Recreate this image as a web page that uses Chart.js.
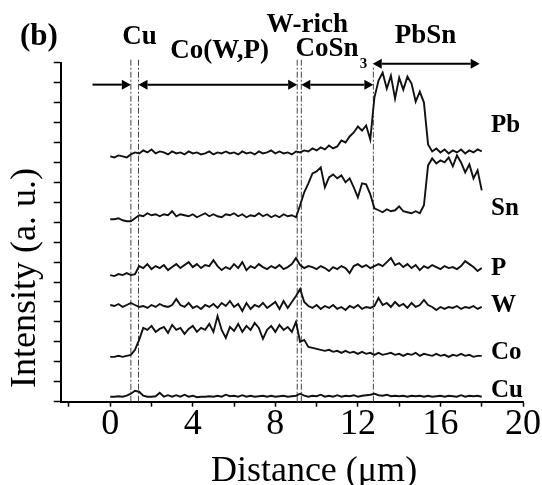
<!DOCTYPE html>
<html>
<head>
<meta charset="utf-8">
<title>Line scan (b)</title>
<style>
  html, body { margin: 0; padding: 0; background: #fff; }
  .chart-box { width: 542px; height: 485px; position: relative; }
</style>
</head>
<body>
<div class="chart-box"><canvas id="scan"></canvas></div>

<script src="https://cdn.jsdelivr.net/npm/chart.js"></script>
<script>
// distance along the scan (µm)
const distance = [
  0, 0.2, 0.4, 0.6, 0.8, 1.0, 1.2, 1.4, 1.6, 1.8,
  2.0, 2.2, 2.4, 2.6, 2.8, 3.0, 3.2, 3.4, 3.6, 3.8,
  4.0, 4.2, 4.4, 4.6, 4.8, 5.0, 5.2, 5.4, 5.6, 5.8,
  6.0, 6.2, 6.4, 6.6, 6.8, 7.0, 7.2, 7.4, 7.6, 7.8,
  8.0, 8.2, 8.4, 8.6, 8.8, 9.0, 9.2, 9.4, 9.6, 9.8,
  10.0, 10.2, 10.4, 10.6, 10.8, 11.0, 11.2, 11.4, 11.6, 11.8,
  12.0, 12.2, 12.4, 12.6, 12.8, 13.0, 13.2, 13.4, 13.6, 13.8,
  14.0, 14.2, 14.4, 14.6, 14.8, 15.0, 15.2, 15.4, 15.6, 15.8,
  16.0, 16.2, 16.4, 16.6, 16.8, 17.0, 17.2, 17.4, 17.6, 17.8,
  18.0
];

// stacked intensity traces (a.u., already offset)
const cu = [
  5, 5, 5.5, 5, 6, 8, 11, 10, 6, 5,
  5, 5.5, 9, 5, 6.5, 5, 6.5, 5, 7, 5,
  6, 4.5, 5, 5, 5.5, 5, 6, 5, 7, 5.5,
  6, 5, 6.5, 5, 6, 5, 5.5, 6, 5, 6,
  5, 5.5, 6, 5, 5.5, 6, 8, 6, 5, 6,
  5.5, 7, 5, 6, 5, 6.5, 5, 6, 5.5, 6.5,
  5, 6, 6.5, 7, 8, 6.5, 6, 7, 5.5, 6,
  5.5, 6, 5, 6, 5.5, 6, 5, 6, 5, 5.5,
  6, 5, 6, 5.5, 5, 6.5, 5, 6, 5.5, 6,
  5
];
const co = [
  45, 45, 46, 45, 46, 47, 52, 62, 74, 72,
  76, 70, 73, 75, 69, 77, 72, 74, 68, 73,
  76, 70, 74, 72, 78, 70, 86, 72, 64, 75,
  71, 78, 70, 76, 72, 79, 74, 63, 72, 76,
  70, 77, 72, 75, 70, 80, 60, 62, 55, 54,
  53, 52, 51, 52, 50, 51, 49, 51, 49, 50,
  48, 50, 48, 49, 47, 49, 47, 48, 49, 47,
  48, 46, 48, 47, 49, 46, 48, 47, 46, 48,
  46, 47, 45, 47, 46, 48, 46, 47, 45, 46,
  46
];
const w = [
  97, 96, 98, 95, 97, 99, 97, 95, 96, 94,
  97, 95, 98, 96, 95, 97, 103, 97, 95, 99,
  94, 96, 93, 97, 95, 98, 94, 99, 96, 101,
  95, 98, 91, 99, 93, 97, 95, 99, 94, 97,
  100, 93, 101, 94, 100, 106, 113, 100, 96, 94,
  97, 93, 96, 94, 97, 93, 95, 92, 96, 94,
  97, 93, 95, 94, 96, 104, 97, 99, 95, 100,
  96, 98, 94, 99, 95, 97, 102, 97, 95, 92,
  95, 93, 95, 94, 96, 93, 95, 94, 96, 93,
  95
];
const p = [
  127, 126, 128, 127, 129, 127, 128, 136, 134, 138,
  133, 136, 134, 137, 132, 135, 138, 134, 137, 140,
  135, 138, 134, 137, 136, 142, 136, 132, 135, 133,
  138, 134, 140, 132, 136, 134, 138, 135, 133, 136,
  134, 137, 133, 135, 138, 144, 137, 134, 136, 135,
  133, 136, 134, 131, 135, 133, 136, 134, 129, 136,
  138, 135, 137, 134, 136, 138, 136, 140, 144, 137,
  139, 135, 138, 134, 137, 132, 136, 134, 137, 135,
  133, 136, 134, 135, 133, 136, 141, 138, 135, 131,
  134
];
const sn = [
  183, 183, 184, 182, 181, 181, 184, 187, 186, 189,
  187, 188, 186, 188, 187, 191, 186, 188, 187, 186,
  188, 185, 187, 189, 186, 188, 186, 185, 188, 187,
  189, 186, 188, 185, 187, 186, 189, 186, 188, 185,
  187, 185, 188, 186, 187, 185, 197, 210, 219, 229,
  231, 235, 215, 225, 228, 224, 227, 220, 224, 215,
  205, 219, 218, 208, 194, 192, 190, 193, 191, 192,
  196, 191, 190, 189, 191, 189, 197, 237, 244, 239,
  242, 240, 245, 236, 247, 240, 230, 238, 224, 232,
  212
];
const pb = [
  246, 245, 247, 246, 245, 248, 250, 249, 252, 250,
  253, 249, 251, 250, 248, 251, 249, 250, 248, 251,
  249, 250, 248, 249, 251, 248, 250, 249, 251, 249,
  250, 248, 251, 249, 250, 248, 251, 249, 250, 252,
  249, 251, 249, 250, 248, 251, 250, 252, 251, 254,
  252, 255, 253, 257, 254, 256, 262, 260, 266, 270,
  276, 272, 277, 263, 305, 322, 330, 314, 327, 304,
  325, 313, 326, 319, 301, 311, 300, 258, 251, 254,
  250, 253, 249, 252, 250, 253, 249, 252, 250, 253,
  251
];

const traces = [cu, co, w, p, sn, pb];
const elementNames = ['Cu', 'Co', 'W', 'P', 'Sn', 'Pb'];
const elementLabelAt = [5, 43, 90, 127, 187, 270];   // baseline of each name (a.u.)

// phase boundaries (µm) and the regions between them
const boundaries = [1.0, 1.37, 9.06, 9.26, 12.75];
const boundaryTop = [343, 343, 343, 343, 337];
const phaseArrows = [
  { from: -0.86, to: 1.0,  at: 318, both: false },
  { from: 1.37,  to: 9.06, at: 318, both: true },
  { from: 9.26,  to: 12.75, at: 318, both: true },
  { from: 12.72, to: 17.9, at: 339, both: true }
];
const phaseNames = [
  { text: '(b)',     x: -4.37, at: 358, size: 31 },
  { text: 'Cu',      x: 0.58,  at: 359, size: 27 },
  { text: 'Co(W,P)', x: 2.91,  at: 345, size: 27 },
  { text: 'W-rich',  x: 7.57,  at: 371, size: 27 },
  { text: 'CoSn',    x: 8.98,  at: 347, size: 27 },
  { text: '3',       x: 12.09, at: 335, size: 15 },
  { text: 'PbSn',    x: 13.79, at: 360, size: 27 }
];

const serif = '"Liberation Serif", "Times New Roman", serif';
Chart.defaults.font.family = serif;
Chart.defaults.color = '#000';

const datasets = traces.map((vals, k) => ({
  label: elementNames[k],
  data: distance.map((d, i) => ({ x: d, y: vals[i] })),
  borderColor: '#111',
  borderWidth: 1.9,
  pointRadius: 0,
  tension: 0
}));

boundaries.forEach((b, i) => {
  datasets.push({
    label: 'boundary',
    data: [{ x: b, y: 0 }, { x: b, y: boundaryTop[i] }],
    borderColor: '#444',
    borderWidth: 1,
    borderDash: [6, 2, 2, 2],
    pointRadius: 0,
    clip: false
  });
});

// arrows, names and axis titles
const overlay = {
  id: 'overlay',
  afterDatasetsDraw(chart) {
    const { ctx, scales: { x, y } } = chart;
    ctx.save();
    ctx.strokeStyle = '#000';
    ctx.fillStyle = '#000';
    ctx.lineWidth = 2;
    const hl = 9, hw = 5;
    const head = (tx, ty, dir) => {
      ctx.beginPath();
      ctx.moveTo(tx, ty);
      ctx.lineTo(tx - dir * hl, ty - hw);
      ctx.lineTo(tx - dir * hl, ty + hw);
      ctx.closePath();
      ctx.fill();
    };
    phaseArrows.forEach(a => {
      const x1 = x.getPixelForValue(a.from);
      const x2 = x.getPixelForValue(a.to);
      const py = y.getPixelForValue(a.at);
      ctx.beginPath();
      ctx.moveTo(a.both ? x1 + hl : x1, py);
      ctx.lineTo(x2 - hl, py);
      ctx.stroke();
      head(x2, py, 1);
      if (a.both) head(x1, py, -1);
    });

    ctx.textAlign = 'left';
    ctx.textBaseline = 'alphabetic';
    phaseNames.forEach(n => {
      ctx.font = 'bold ' + n.size + 'px ' + serif;
      ctx.fillText(n.text, x.getPixelForValue(n.x), y.getPixelForValue(n.at));
    });
    ctx.font = 'bold 25px ' + serif;
    elementNames.forEach((name, k) => {
      ctx.fillText(name, x.getPixelForValue(18.45), y.getPixelForValue(elementLabelAt[k]));
    });

    // axis titles
    ctx.font = '36px ' + serif;
    ctx.textAlign = 'center';
    ctx.fillText('Distance (μm)', 314, 481);
    ctx.translate(35, 278);
    ctx.rotate(-Math.PI / 2);
    ctx.fillText('Intensity (a. u.)', 0, 0);
    ctx.restore();
  }
};

new Chart(document.getElementById('scan'), {
  type: 'line',
  data: { datasets: datasets },
  options: {
    responsive: true,
    maintainAspectRatio: false,
    animation: false,
    layout: { padding: { top: 62.7, right: 19, left: 0, bottom: 0 } },
    plugins: { legend: { display: false }, tooltip: { enabled: false } },
    scales: {
      x: {
        type: 'linear',
        min: -2.4,
        max: 20,
        border: { display: true, color: '#000', width: 2 },
        grid: { display: true, drawOnChartArea: false, drawTicks: true, tickLength: 5, tickColor: '#000', tickWidth: 1.5 },
        ticks: {
          stepSize: 2,
          includeBounds: false,
          padding: 0,
          maxRotation: 0,
          autoSkip: false,
          font: { size: 36, lineHeight: 1 },
          color: '#000',
          callback: v => (v % 4 === 0 ? String(v) : '')
        },
        afterFit: s => { s.height = 485 - 401.7; }
      },
      y: {
        min: 0,
        max: 340,
        border: { display: true, color: '#000', width: 2 },
        grid: { display: true, drawOnChartArea: false, drawTicks: true, tickLength: 7, tickColor: '#000', tickWidth: 1.5 },
        ticks: { stepSize: 20, display: false },
        afterFit: s => { s.width = 60.7; }
      }
    }
  },
  plugins: [overlay]
});
</script>
</body>
</html>
